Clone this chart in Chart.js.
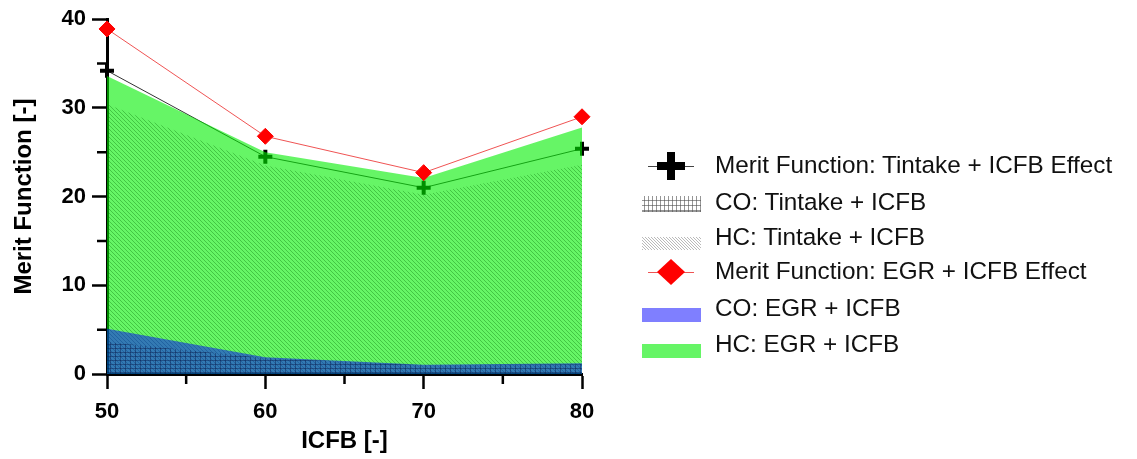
<!DOCTYPE html>
<html>
<head>
<meta charset="utf-8">
<script src="https://cdn.jsdelivr.net/npm/chart.js@4/dist/chart.umd.min.js"></script>
<style>
  html, body { margin: 0; padding: 0; background: #fff; }
  #wrap { position: relative; width: 1137px; height: 459px; overflow: hidden; }
  #chart { position: absolute; left: 0; top: 0; }
  #keys { position: absolute; left: 0; top: 0; pointer-events: none; }
  .lg { position: absolute; left: 715px; height: 30px; line-height: 30px;
        font: 24.3px "Liberation Sans", Arial, sans-serif; color: #111; white-space: nowrap; }
</style>
</head>
<body>
<div id="wrap">
  <canvas id="chart" width="1137" height="459"></canvas>
  <canvas id="keys" width="1137" height="459"></canvas>
</div>
<script>
// ICFB settings on the x axis
const icfb = [50, 60, 70, 80];

// Merit function values and their CO / HC contributions
const meritTintake = [34.2, 24.5, 21.0, 25.4];
const coTintake    = [3.6, 1.8, 1.0, 1.1];
const hcTintake    = [30.4, 23.5, 20.2, 23.6];
const meritEGR     = [38.9, 26.8, 22.7, 29.0];
const coEGR        = [5.1, 1.9, 1.05, 1.2];
const hcEGR        = [33.6, 25.0, 22.1, 27.8];

// Tick values
const xTicks = [50, 60, 70, 80];
const yTicks = [0, 10, 20, 30, 40];
const xMinor = [55, 65, 75];
const yMinor = [5, 15, 25, 35];

// Legend entries
const legendLabels = [
  'Merit Function: Tintake + ICFB Effect',
  'CO: Tintake + ICFB',
  'HC: Tintake + ICFB',
  'Merit Function: EGR + ICFB Effect',
  'CO: EGR + ICFB',
  'HC: EGR + ICFB'
];

const pts = arr => icfb.map((x, i) => ({ x: x, y: arr[i] }));

// Diagonal hatch (top-left to bottom-right)
function hatchPattern(color, step) {
  const c = document.createElement('canvas');
  c.width = step; c.height = step;
  const g = c.getContext('2d');
  g.strokeStyle = color; g.lineWidth = 1;
  g.beginPath();
  g.moveTo(-1, -1); g.lineTo(step + 1, step + 1);
  g.moveTo(-1, step - 1); g.lineTo(1, step + 1);
  g.moveTo(step - 1, -1); g.lineTo(step + 1, 1);
  g.stroke();
  return g.createPattern(c, 'repeat');
}

// Rectangular grid hatch
function gridPattern(color, w, h) {
  const c = document.createElement('canvas');
  c.width = w; c.height = h;
  const g = c.getContext('2d');
  g.fillStyle = color;
  g.fillRect(0, 0, 1, h);
  g.fillRect(0, 0, w, 1);
  return g.createPattern(c, 'repeat');
}

const greenFill = 'rgba(0, 238, 0, 0.6)';
const blueFill  = 'rgba(0, 0, 255, 0.5)';

const minorTicks = {
  id: 'minorTicks',
  afterDraw(chart) {
    const ctx = chart.ctx;
    const xs = chart.scales.x, ys = chart.scales.y;
    ctx.save();
    ctx.strokeStyle = '#000';
    ctx.lineWidth = 2.5;
    ctx.beginPath();
    xMinor.forEach(v => {
      const px = xs.getPixelForValue(v);
      ctx.moveTo(px, ys.bottom); ctx.lineTo(px, ys.bottom + 10);
    });
    yMinor.forEach(v => {
      const py = ys.getPixelForValue(v);
      ctx.moveTo(xs.left, py); ctx.lineTo(xs.left - 10, py);
    });
    ctx.stroke();
    ctx.restore();
  }
};

const tickFont = { family: '"Liberation Sans", Arial, sans-serif', size: 22, weight: 'bold' };
const titleFont = { family: '"Liberation Sans", Arial, sans-serif', size: 24, weight: 'bold' };

new Chart(document.getElementById('chart'), {
  type: 'line',
  data: {
    datasets: [
      {
        label: legendLabels[3], data: pts(meritEGR), order: 0, clip: false,
        borderColor: 'rgba(235, 40, 40, 0.8)', borderWidth: 1, fill: false,
        pointStyle: 'rectRot', pointRadius: 8, pointBorderWidth: 1,
        pointBackgroundColor: '#ff0000', pointBorderColor: '#ff0000'
      },
      {
        label: legendLabels[1], data: pts(coTintake), order: 1,
        borderWidth: 0, pointRadius: 0, fill: 'origin',
        backgroundColor: gridPattern('rgba(10, 30, 80, 0.45)', 5, 4)
      },
      {
        label: legendLabels[4], data: pts(coEGR), order: 2,
        borderWidth: 0, pointRadius: 0, fill: 'origin',
        backgroundColor: blueFill
      },
      {
        label: legendLabels[2], data: pts(hcTintake), order: 3,
        borderWidth: 0, pointRadius: 0, fill: 'origin',
        backgroundColor: hatchPattern('rgba(0, 110, 0, 0.35)', 4)
      },
      {
        label: legendLabels[5], data: pts(hcEGR), order: 4,
        borderWidth: 0, pointRadius: 0, fill: 'origin',
        backgroundColor: greenFill
      },
      {
        label: legendLabels[0], data: pts(meritTintake), order: 5, clip: false,
        borderColor: '#333', borderWidth: 1, fill: false,
        pointStyle: 'cross', pointRadius: 7, pointBorderWidth: 4,
        pointBorderColor: '#000'
      }
    ]
  },
  options: {
    responsive: false,
    animation: false,
    events: [],
    elements: { line: { tension: 0 } },
    layout: { padding: { left: 0, top: 18, right: 555, bottom: 0 } },
    plugins: { legend: { display: false }, tooltip: { enabled: false } },
    scales: {
      x: {
        type: 'linear', min: 50, max: 80,
        afterFit(s) { s.height = 85; },
        afterBuildTicks(s) { s.ticks = xTicks.map(v => ({ value: v })); },
        ticks: { font: tickFont, color: '#000', padding: 10 },
        grid: { drawOnChartArea: false, drawTicks: true, tickLength: 15, tickWidth: 2.5, tickColor: '#000' },
        border: { display: true, color: '#000', width: 3 },
        title: { display: true, text: 'ICFB [-]', font: titleFont, color: '#000', padding: { top: 0, bottom: 3 } }
      },
      y: {
        type: 'linear', min: 0, max: 40,
        afterFit(s) { s.width = 107; },
        afterBuildTicks(s) { s.ticks = yTicks.map(v => ({ value: v })); },
        ticks: { font: tickFont, color: '#000', padding: 6 },
        grid: { drawOnChartArea: false, drawTicks: true, tickLength: 15, tickWidth: 2.5, tickColor: '#000' },
        border: { display: true, color: '#000', width: 3 },
        title: { display: true, text: 'Merit Function [-]', font: titleFont, color: '#000', padding: { top: 10, bottom: 0 } }
      }
    }
  },
  plugins: [minorTicks]
});

// Legend: symbols on an overlay canvas, labels as HTML text
const rowY = [166, 203, 238, 272, 309, 345];
const wrap = document.getElementById('wrap');
legendLabels.forEach((t, i) => {
  const d = document.createElement('div');
  d.className = 'lg';
  d.style.top = (rowY[i] - 15) + 'px';
  d.textContent = t;
  wrap.appendChild(d);
});

(function drawKeys() {
  const g = document.getElementById('keys').getContext('2d');
  const x0 = 642, w = 59, cx = 671;
  // merit (Tintake): thin line with bold plus
  g.strokeStyle = '#444'; g.lineWidth = 1;
  g.beginPath(); g.moveTo(648, rowY[0] + 0.5); g.lineTo(694, rowY[0] + 0.5); g.stroke();
  g.strokeStyle = '#000'; g.lineWidth = 8;
  g.beginPath();
  g.moveTo(cx - 14, rowY[0]); g.lineTo(cx + 14, rowY[0]);
  g.moveTo(cx, rowY[0] - 14); g.lineTo(cx, rowY[0] + 14);
  g.stroke();
  // CO (Tintake): grid swatch
  g.fillStyle = gridPattern('rgba(80, 80, 80, 0.6)', 4, 5);
  g.fillRect(x0, rowY[1] - 7, w, 16);
  g.fillStyle = 'rgba(80, 80, 80, 0.6)';
  g.fillRect(x0, rowY[1] + 8, w, 1);
  // HC (Tintake): diagonal hatch swatch
  g.fillStyle = hatchPattern('rgba(140, 140, 140, 0.6)', 3);
  g.fillRect(x0, rowY[2] - 1, w, 13);
  // merit (EGR): thin red line with diamond
  g.strokeStyle = 'rgba(235, 40, 40, 0.8)'; g.lineWidth = 1;
  g.beginPath(); g.moveTo(648, rowY[3] + 0.5); g.lineTo(694, rowY[3] + 0.5); g.stroke();
  g.fillStyle = '#ff0000';
  g.beginPath();
  g.moveTo(cx, rowY[3] - 13); g.lineTo(cx + 14, rowY[3]);
  g.lineTo(cx, rowY[3] + 13); g.lineTo(cx - 14, rowY[3]);
  g.closePath(); g.fill();
  // CO (EGR): blue bar
  g.fillStyle = blueFill;
  g.fillRect(x0, rowY[4] - 1, w, 14);
  // HC (EGR): green bar
  g.fillStyle = greenFill;
  g.fillRect(x0, rowY[5] - 1, w, 14);
})();
</script>
</body>
</html>
